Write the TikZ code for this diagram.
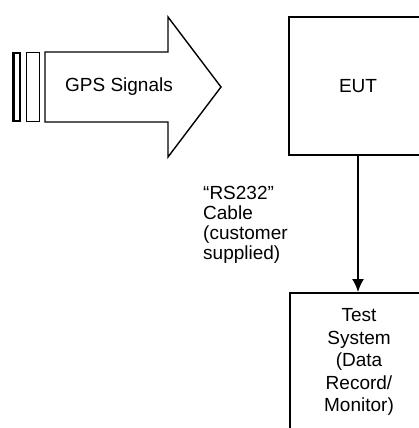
\documentclass[tikz,border=0pt]{standalone}
\usepackage{fontspec}
\setmainfont{Liberation Sans}
\usetikzlibrary{arrows.meta}
\begin{document}
\begin{tikzpicture}[x=1pt,y=-1pt,
  lbl/.style={font=\fontsize{19}{22.5}\selectfont, inner sep=0pt},
  sysbox/.style={draw, line width=2pt, minimum width=138pt, minimum height=138pt, align=center, lbl},
  conn/.style={line width=1.5pt, -{Latex[length=13pt,width=12pt]}}
]
\useasboundingbox (0,0) rectangle (419,428);
\clip (0,0) rectangle (419,428);
% bars
\draw[line width=2.6pt] (13.5,53) rectangle (20,121);
\draw[line width=1.3pt] (26.5,52.5) rectangle (39.5,121.5);
% GPS arrow
\draw[line width=1.4pt, line join=miter] (45,52) -- (168,52) -- (168,17) -- (221,87) -- (168,157) -- (168,122) -- (45,122) -- cycle;
\node[lbl] (gps) at (119,87) {GPS Signals};
% boxes
\node[sysbox] (eut) at (358,86) {EUT};
\node[sysbox] (test) at (359,362) {Test\\System\\(Data\\Record/\\Monitor)};
\draw[conn] (eut.south) -- (eut.south |- test.north);
\node[lbl, font=\fontsize{19}{20}\selectfont, align=left, anchor=north west] (cable) at (203,186.5) {``RS232''\\Cable\\(customer\\supplied)};
\end{tikzpicture}
\end{document}
